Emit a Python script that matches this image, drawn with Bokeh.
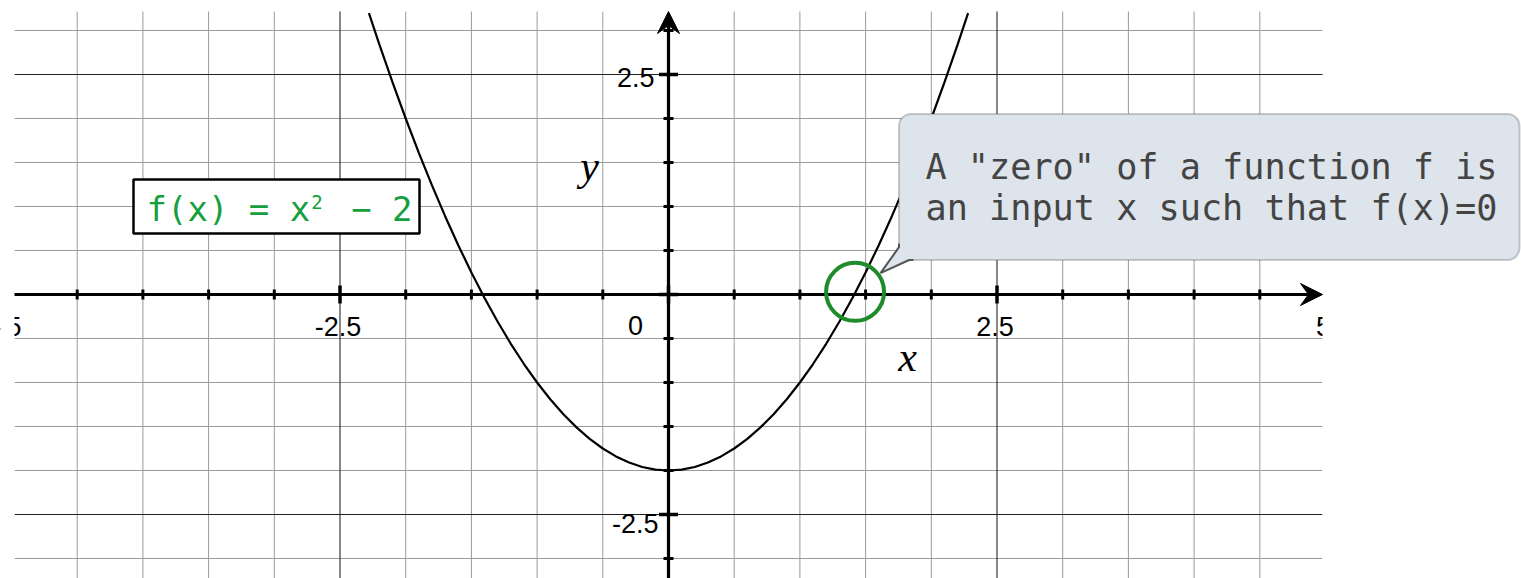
import numpy as np
from bokeh.plotting import figure
from bokeh.models import Range1d, BoxAnnotation
from bokeh.core.properties import value
from bokeh.embed import file_html
from bokeh.resources import INLINE

# ---------------- data ----------------
curve_x = [-2.28, -2.2, -2.1, -2.0, -1.9, -1.8, -1.7, -1.6, -1.5, -1.4, -1.3, -1.2,
           -1.1, -1.0, -0.9, -0.8, -0.7, -0.6, -0.5, -0.4, -0.3, -0.2, -0.1, 0.0,
           0.1, 0.2, 0.3, 0.4, 0.5, 0.6, 0.7, 0.8, 0.9, 1.0, 1.1, 1.2,
           1.3, 1.4, 1.5, 1.6, 1.7, 1.8, 1.9, 2.0, 2.1, 2.2, 2.28]
curve_y = [3.198, 2.84, 2.41, 2.0, 1.61, 1.24, 0.89, 0.56, 0.25, -0.04, -0.31, -0.56,
           -0.79, -1.0, -1.19, -1.36, -1.51, -1.64, -1.75, -1.84, -1.91, -1.96, -1.99, -2.0,
           -1.99, -1.96, -1.91, -1.84, -1.75, -1.64, -1.51, -1.36, -1.19, -1.0, -0.79, -0.56,
           -0.31, -0.04, 0.25, 0.56, 0.89, 1.24, 1.61, 2.0, 2.41, 2.84, 3.198]
zero_x = [1.42]
zero_y = [0.03]

x_tick_values = [-4.5, -4.0, -3.5, -3.0, -2.5, -2.0, -1.5, -1.0, -0.5, 0.0,
                 0.5, 1.0, 1.5, 2.0, 2.5, 3.0, 3.5, 4.0, 4.5]
y_tick_values = [-3.0, -2.5, -2.0, -1.5, -1.0, -0.5, 0.0, 0.5, 1.0, 1.5, 2.0, 2.5, 3.0]
x_label_values = [-5.0, -2.5, 2.5, 5.0]
x_label_text = ["-5", "-2.5", "2.5", "5"]
y_label_values = [2.5, -2.5]
y_label_text = ["2.5", "-2.5"]
origin_label = "0"
formula_base = "f(x) = x"
formula_sup = "2"
formula_tail = "\u2212 2"
callout_lines = ['A "zero" of a function f is', 'an input x such that f(x)=0']

# ---------------- layout helpers (page pixels -> data) ----------------
PX0, PY0 = 668.0, 294.0
SX, SY = 131.4, 88.0
W, H = 1521, 578
M = 0
KB = 0.37  # baseline correction (fraction of font size)


def X(px):
    return (px - PX0) / SX


def Y(py):
    return (PY0 - py) / SY


def TB(py, size):
    return Y(py - KB * size)


p = figure(width=W, height=H, x_range=Range1d(X(M), X(M + W)), y_range=Range1d(Y(M + H), Y(M)),
           output_backend="svg", toolbar_location=None, min_border=0,
           x_axis_location=None, y_axis_location=None)
p.grid.visible = False
p.outline_line_color = None
p.background_fill_color = "white"
p.border_fill_color = "white"

GX0, GX1 = X(14), X(1322)
GY0, GY1 = Y(620), Y(11)

# grid
step = 0.5
gx = np.arange(-4.5, 4.51, step)
gy = np.arange(-3.0, 3.01, step)
is_major = lambda v: abs(v / 2.5 - round(v / 2.5)) < 1e-9
minor_x = [v for v in gx if not is_major(v)]
minor_y = [v for v in gy if not is_major(v)]
major_x = [v for v in gx if is_major(v) and abs(v) > 1e-9]
major_y = [v for v in gy if is_major(v) and abs(v) > 1e-9]

p.segment(x0=minor_x, y0=[GY0] * len(minor_x), x1=minor_x, y1=[GY1] * len(minor_x),
          line_color="#9a9a9a", line_width=1)
p.segment(x0=[GX0] * len(minor_y), y0=minor_y, x1=[GX1] * len(minor_y), y1=minor_y,
          line_color="#9a9a9a", line_width=1)
p.segment(x0=major_x, y0=[GY0] * len(major_x), x1=major_x, y1=[GY1] * len(major_x),
          line_color="#111111", line_width=1)
p.segment(x0=[GX0] * len(major_y), y0=major_y, x1=[GX1] * len(major_y), y1=major_y,
          line_color="#222222", line_width=1)

# curve
p.line(curve_x, curve_y, line_color="black", line_width=2.2)

# axes with arrow heads
p.segment(x0=[GX0], y0=[0], x1=[X(1308)], y1=[0], line_color="black", line_width=3.2)
p.segment(x0=[0], y0=[GY0], x1=[0], y1=[Y(25)], line_color="black", line_width=3.2)
p.patch([X(1322), X(1300), X(1308), X(1300)], [0, Y(PY0 - 11), 0, Y(PY0 + 11)],
        fill_color="black", line_color="black", line_width=1)
p.patch([0, X(PX0 - 11), 0, X(PX0 + 11)], [Y(11), Y(33), Y(25), Y(33)],
        fill_color="black", line_color="black", line_width=1)

# ticks
xt_minor = [v for v in x_tick_values if not is_major(v)]
xt_major = [v for v in x_tick_values if is_major(v)]
yt_minor = [v for v in y_tick_values if not is_major(v)]
yt_major = [v for v in y_tick_values if is_major(v)]
p.rect(x=xt_minor, y=[0] * len(xt_minor), width=3, height=10, width_units="screen",
       height_units="screen", fill_color="black", line_color=None)
p.rect(x=xt_major, y=[0] * len(xt_major), width=3.5, height=18, width_units="screen",
       height_units="screen", fill_color="black", line_color=None)
p.rect(x=[0] * len(yt_minor), y=yt_minor, width=10, height=3, width_units="screen",
       height_units="screen", fill_color="black", line_color=None)
p.rect(x=[0] * len(yt_major), y=yt_major, width=19, height=3.5, width_units="screen",
       height_units="screen", fill_color="black", line_color=None)

# tick labels
FS = 27
p.text(x=[v - 2 / SX for v in x_label_values], y=[TB(336, FS)] * len(x_label_values), text=x_label_text,
       text_font=value("Liberation Sans"), text_font_size=f"{FS}px", text_color="black",
       text_align="center", text_baseline="alphabetic")
p.text(x=[X(654), X(658)], y=[TB(PY0 - v * SY + off, FS) for v, off in zip(y_label_values, [13, 19])],
       text=y_label_text, text_font=value("Liberation Sans"), text_font_size=f"{FS}px",
       text_color="black", text_align="right", text_baseline="alphabetic")
p.text(x=[X(635)], y=[TB(335, FS)], text=[origin_label], text_font=value("Liberation Sans"),
       text_font_size=f"{FS}px", text_color="black", text_align="center", text_baseline="alphabetic")

# axis names
p.text(x=[X(907), X(589)], y=[TB(372, 42), TB(181, 42)], text=["x", "y"],
       text_font=value("Liberation Serif"), text_font_style="italic", text_font_size="42px",
       text_color="black", text_align="center", text_baseline="alphabetic")

# clip labels at grid edges
p.quad(left=[X(M - 5)], right=[GX0], top=[Y(300)], bottom=[Y(M + H + 5)], fill_color="white", line_color=None)
p.quad(left=[GX1], right=[X(M + W + 5)], top=[Y(308)], bottom=[Y(M + H + 5)], fill_color="white", line_color=None)

# formula box
GREEN = "#14a03c"
CELL = 0.602 * 34
p.quad(left=[X(133)], right=[X(419)], top=[Y(179)], bottom=[Y(233)], fill_color="white",
       line_color="black", line_width=2.5)
p.text(x=[X(146)], y=[TB(221, 34)], text=[formula_base], text_font=value("DejaVu Sans Mono"),
       text_font_size="34px", text_color=GREEN, text_align="left", text_baseline="alphabetic")
p.text(x=[X(146 + 8 * CELL + 1)], y=[TB(209, 19)], text=[formula_sup], text_font=value("DejaVu Sans Mono"),
       text_font_size="19px", text_color=GREEN, text_align="left", text_baseline="alphabetic")
p.text(x=[X(146 + 10 * CELL)], y=[TB(221, 34)], text=[formula_tail], text_font=value("DejaVu Sans Mono"),
       text_font_size="34px", text_color=GREEN, text_align="left", text_baseline="alphabetic")

# zero marker
p.scatter(zero_x, zero_y, marker="circle", size=58, fill_color=None, line_color="#1e8c2a", line_width=4)

# callout
box = BoxAnnotation(left=X(898.5), right=X(1519), top=Y(113.5), bottom=Y(259.5),
                    fill_color="#dde4ec", fill_alpha=1.0, line_color="#555555", line_width=2,
                    border_radius=12)
p.add_layout(box)
tail_px = [898.5, 898.5, 880, 908.6, 912, 912]
tail_py = [243, 246.7, 272.7, 259.5, 259.5, 243]
p.patch([X(v) for v in tail_px], [Y(v) for v in tail_py], fill_color="#dde4ec",
        line_color=None, level="overlay")
edge_px = [898.5, 898.5, 880, 908.6, 913]
edge_py = [243, 246.7, 272.7, 259.5, 259.5]
p.line([X(v) for v in edge_px], [Y(v) for v in edge_py], line_color="#555555", line_width=2,
       level="overlay")
p.text(x=[X(925), X(925)], y=[TB(179, 35.2), TB(220, 35.2)], text=callout_lines,
       text_font=value("DejaVu Sans Mono"), text_font_size="35.2px", text_color="#444444",
       text_align="left", text_baseline="alphabetic", level="overlay")

with open("out.html", "w", encoding="utf-8") as f:
    f.write(file_html(p, INLINE))
